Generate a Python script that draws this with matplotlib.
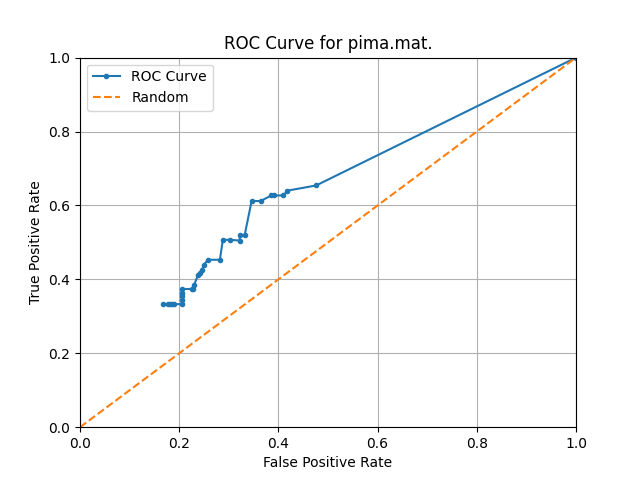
import matplotlib
matplotlib.use("Agg")
import matplotlib.pyplot as plt

# ROC points
fpr = [0.167, 0.178, 0.182, 0.186, 0.19, 0.206, 0.206, 0.206, 0.206, 0.206,
       0.226, 0.228, 0.23, 0.238, 0.242, 0.246, 0.25, 0.258, 0.282,
       0.288, 0.302, 0.322, 0.322, 0.332, 0.346, 0.364, 0.386, 0.392,
       0.41, 0.418, 0.476, 1.0]
tpr = [0.333, 0.333, 0.333, 0.333, 0.333, 0.333, 0.345, 0.355, 0.364, 0.374,
       0.374, 0.374, 0.385, 0.412, 0.418, 0.426, 0.44, 0.453, 0.453,
       0.507, 0.507, 0.505, 0.52, 0.52, 0.612, 0.612, 0.627, 0.627,
       0.627, 0.64, 0.654, 1.0]
rand = [0, 1]

fig, ax = plt.subplots(figsize=(6.4, 4.8), dpi=100)
ax.plot(fpr, tpr, marker='.', label='ROC Curve')
ax.plot(rand, rand, linestyle='--', label='Random')
ax.set_xlim(0, 1)
ax.set_ylim(0, 1)
ax.set_xlabel('False Positive Rate')
ax.set_ylabel('True Positive Rate')
ax.set_title('ROC Curve for pima.mat.')
ax.legend(loc='upper left')
ax.grid(True)

plt.savefig('out.png')
